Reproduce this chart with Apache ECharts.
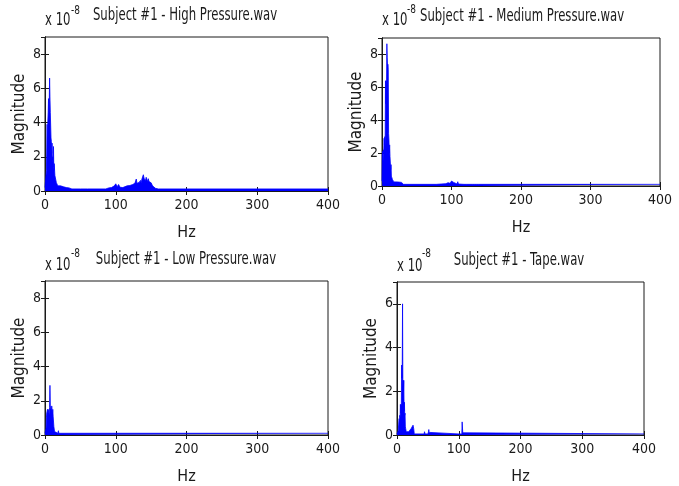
<!DOCTYPE html>
<html>
<head>
<meta charset="utf-8">
<title>Subject #1 spectra</title>
<script src="https://cdn.jsdelivr.net/npm/echarts@6/dist/echarts.min.js"></script>
<style>
  html, body { margin: 0; padding: 0; background: #fff; }
  #chart { width: 679px; height: 486px; }
</style>
</head>
<body>
<div id="chart"></div>
<script>
// Magnitude values are in units of 1e-8, frequency in Hz

const highHz = [
  0, 1, 2, 3, 3.5, 4, 4.5, 5, 5.5, 6,
  6.5, 7, 7.5, 8, 8.5, 9, 9.5, 10, 10.5, 11,
  11.5, 12, 12.5, 13, 14, 15, 16, 17, 18, 19,
  20, 22, 24, 26, 28, 30, 32, 34, 36, 38,
  50, 51, 52, 60, 86, 90, 94, 98, 100, 102,
  104, 106, 108, 110, 112, 116, 120, 124, 127, 129,
  130, 131, 133, 135, 136, 137, 138, 139, 140, 141,
  142, 143, 144, 145, 146, 147, 148, 149, 150, 152,
  154, 156, 158, 160, 400
];
const highMag = [
  0.2, 0.7, 1.2, 3.9, 2.6, 4.1, 4.6, 5.4, 4.2, 5.2,
  6.6, 5.5, 4.6, 4.5, 3.1, 2.9, 2.2, 2.8, 1.8, 2.0,
  1.4, 2.6, 1.2, 1.6, 0.9, 0.8, 0.5, 0.45, 0.3, 0.35,
  0.25, 0.3, 0.2, 0.25, 0.15, 0.2, 0.15, 0.18, 0.13, 0.12,
  0.12, 0.22, 0.12, 0.12, 0.12, 0.18, 0.2, 0.3, 0.42, 0.25,
  0.38, 0.22, 0.3, 0.2, 0.28, 0.3, 0.32, 0.38, 0.45, 0.7,
  0.45, 0.55, 0.5, 0.62, 0.45, 0.7, 0.6, 0.95, 0.75, 0.85,
  0.6, 0.8, 0.7, 0.55, 0.72, 0.55, 0.6, 0.45, 0.48, 0.3,
  0.22, 0.16, 0.14, 0.12, 0.12
];

const mediumHz = [
  0, 0.5, 1, 1.5, 2, 2.5, 3, 3.5, 4, 4.5,
  5, 5.5, 6, 6.5, 7, 7.5, 8, 8.5, 9, 9.5,
  10, 10.5, 11, 11.5, 12, 12.5, 13, 13.5, 14, 15,
  16, 17, 18, 20, 22, 24, 26, 28, 30, 31,
  78, 79, 80, 92, 95, 98, 100, 101, 103, 105,
  108, 109, 110, 112, 118, 119, 122, 123, 130, 131,
  133, 134, 136, 137, 139, 140, 400
];
const mediumMag = [
  0.3, 1.9, 2.1, 1.5, 2.2, 2.0, 2.9, 2.5, 3.0, 2.4,
  6.4, 5.0, 6.4, 6.0, 8.65, 7.8, 7.2, 7.4, 7.1, 3.2,
  2.8, 2.0, 2.5, 1.8, 1.9, 1.0, 1.3, 0.6, 0.5, 0.4,
  0.35, 0.25, 0.3, 0.25, 0.22, 0.24, 0.2, 0.22, 0.15, 0.1,
  0.1, 0.18, 0.1, 0.14, 0.2, 0.16, 0.3, 0.18, 0.22, 0.15,
  0.12, 0.26, 0.12, 0.12, 0.1, 0.16, 0.1, 0.16, 0.1, 0.16,
  0.1, 0.16, 0.1, 0.16, 0.1, 0.15, 0.1
];

const lowHz = [
  0, 1, 1.5, 2, 2.5, 3, 3.5, 4, 4.5, 5,
  5.5, 6, 6.5, 7, 7.5, 8, 8.5, 9, 9.5, 10,
  10.5, 11, 11.5, 12, 12.5, 13, 13.5, 14, 15, 18,
  18.5, 19, 19.5, 20, 400
];
const lowMag = [
  0.1, 0.2, 0.4, 1.0, 1.3, 1.4, 1.5, 1.3, 1.5, 1.4,
  1.5, 1.2, 1.6, 2.9, 1.7, 1.8, 1.6, 1.4, 1.7, 1.5,
  1.2, 1.5, 1.1, 1.2, 0.5, 0.35, 0.2, 0.15, 0.1, 0.1,
  0.1, 0.25, 0.1, 0.1, 0.1
];

const tapeHz = [
  0, 1, 2, 3, 3.5, 4, 4.5, 5, 5.5, 6,
  6.5, 7, 7.5, 8, 8.5, 9, 9.5, 10, 10.5, 11,
  11.5, 12, 12.5, 13, 13.5, 14, 15, 16, 17, 18,
  19, 20, 22, 23, 24, 25, 26, 26.5, 27, 28,
  44, 44.5, 45, 45.5, 50, 51, 51.5, 52, 53, 99,
  99.5, 100, 105, 105.5, 106, 106.5, 107, 400
];
const tapeMag = [
  0.05, 0.1, 0.2, 0.6, 0.75, 0.5, 0.9, 0.8, 1.4, 1.0,
  1.4, 1.3, 3.2, 2.6, 3.1, 6.0, 2.2, 2.5, 2.0, 2.5,
  1.1, 1.5, 0.9, 1.0, 0.4, 0.3, 0.15, 0.12, 0.15, 0.1,
  0.15, 0.1, 0.15, 0.3, 0.35, 0.25, 0.45, 0.5, 0.3, 0.05,
  0.05, 0.15, 0.18, 0.05, 0.05, 0.15, 0.25, 0.12, 0.05, 0.05,
  0.12, 0.05, 0.05, 0.6, 0.62, 0.1, 0.05, 0.05
];

const panelTitles = [
  "Subject #1 - High Pressure.wav",
  "Subject #1 - Medium Pressure.wav",
  "Subject #1 - Low Pressure.wav",
  "Subject #1 - Tape.wav"
];
const yMax = [9, 9, 9, 7];
const xTicks = [0, 100, 200, 300, 400];

const FONT = "'Liberation Sans Narrow', 'DejaVu Sans Condensed', 'Liberation Sans', sans-serif";
const INK = "#1a1a1a";
const BLUE = "#0000ff";

// grid boxes in px: left, top, width, height
const grids = [
  { left: 45, top: 37, width: 283, height: 154 },
  { left: 382, top: 38, width: 278, height: 148 },
  { left: 45, top: 281, width: 283, height: 154 },
  { left: 397, top: 282, width: 247, height: 154 }
];

const spectra = [
  [highHz, highMag],
  [mediumHz, mediumMag],
  [lowHz, lowMag],
  [tapeHz, tapeMag]
];

const xAxes = [];
const yAxes = [];
const series = [];

grids.forEach((g, i) => {
  const tick = { inside: true, length: 4, lineStyle: { color: INK } };
  const line = { lineStyle: { color: INK, width: 1 } };
  xAxes.push({
    gridIndex: i, type: "value", position: "bottom",
    min: xTicks[0], max: xTicks[xTicks.length - 1], interval: 100,
    name: "Hz", nameLocation: "middle", nameGap: 34,
    nameTextStyle: { fontFamily: FONT, fontSize: 16, color: INK },
    axisLine: line, axisTick: tick, splitLine: { show: false },
    axisLabel: { fontFamily: FONT, fontSize: 14, color: INK, margin: 7 }
  });
  xAxes.push({
    gridIndex: i, type: "value", position: "top",
    min: 0, max: 400, interval: 100,
    axisLine: line, axisTick: tick, splitLine: { show: false },
    axisLabel: { show: false }
  });
  yAxes.push({
    gridIndex: i, type: "value", position: "left",
    min: 0, max: yMax[i], interval: 2,
    name: "Magnitude", nameLocation: "middle", nameGap: 17,
    nameTextStyle: { fontFamily: FONT, fontSize: 17, color: INK },
    axisLine: line, axisTick: tick, splitLine: { show: false },
    axisLabel: { fontFamily: FONT, fontSize: 14, color: INK, margin: 4, showMaxLabel: false }
  });
  yAxes.push({
    gridIndex: i, type: "value", position: "right",
    min: 0, max: yMax[i], interval: 2,
    axisLine: line, axisTick: tick, splitLine: { show: false },
    axisLabel: { show: false }
  });
  const [hz, mag] = spectra[i];
  series.push({
    type: "line",
    xAxisIndex: i * 2,
    yAxisIndex: i * 2,
    data: hz.map((f, k) => [f, mag[k]]),
    showSymbol: false,
    symbol: "none",
    lineStyle: { color: BLUE, width: 0.8 },
    areaStyle: { color: BLUE, opacity: 1 },
    animation: false
  });
});

// titles are a little tall and narrow in the original, hence scaleY
function label(text, x, y, size, align) {
  return {
    type: "text", x: x, y: y, scaleY: 1.3,
    style: {
      text: text, fontFamily: FONT, fontSize: size, fill: INK,
      align: align, textAlign: align,
      verticalAlign: "middle", textVerticalAlign: "middle"
    }
  };
}

const graphics = [
  label("x 10", 45, 21, 13, "left"), label("-8", 71, 11, 10, "left"),
  label(panelTitles[0], 185, 16, 13, "center"),
  label("x 10", 382, 21, 13, "left"), label("-8", 407, 10, 10, "left"),
  label(panelTitles[1], 420, 17, 13, "left"),
  label("x 10", 45, 266, 13, "left"), label("-8", 71, 254, 10, "left"),
  label(panelTitles[2], 186, 260, 13, "center"),
  label("x 10", 397, 267, 13, "left"), label("-8", 422, 254, 10, "left"),
  label(panelTitles[3], 519, 261, 13, "center")
];

const chart = echarts.init(document.getElementById("chart"), null, { renderer: "canvas" });
chart.setOption({
  backgroundColor: "#ffffff",
  animation: false,
  grid: grids.map(g => Object.assign({ show: true, borderColor: INK, borderWidth: 1, containLabel: false }, g)),
  xAxis: xAxes,
  yAxis: yAxes,
  series: series,
  graphic: graphics
});
</script>
</body>
</html>
